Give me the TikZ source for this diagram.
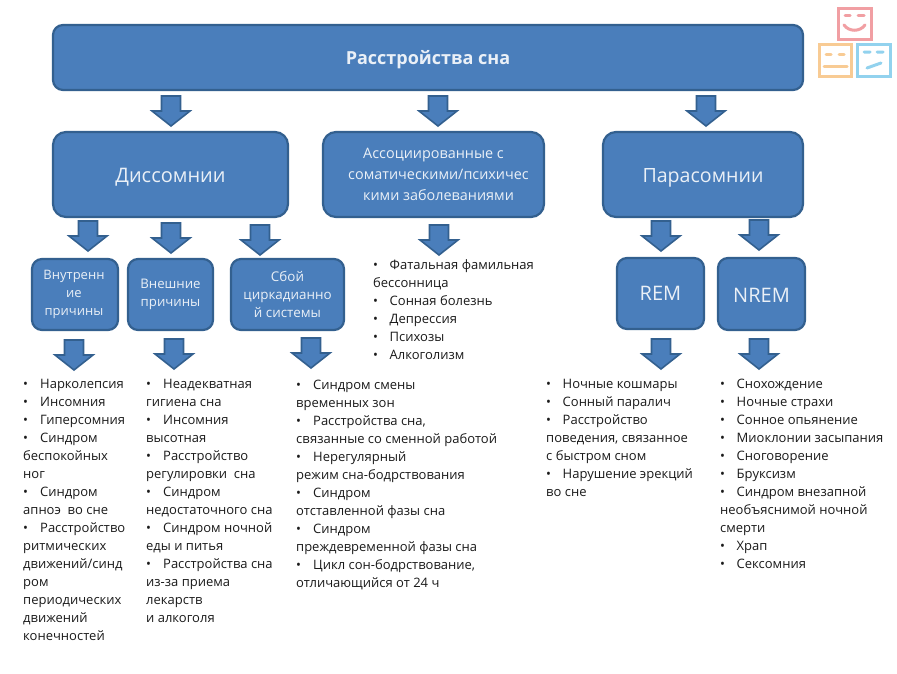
\documentclass[tikz,border=0pt]{standalone}
\usepackage{fontspec}
\setmainfont{Open Sans}
\definecolor{bfill}{HTML}{4A7EBB}
\definecolor{bedge}{HTML}{33608F}
\definecolor{btext}{HTML}{EAF0F7}
\definecolor{ink}{HTML}{1A1A1A}
\definecolor{spink}{HTML}{F19FA3}
\definecolor{sorange}{HTML}{F8CB94}
\definecolor{sblue}{HTML}{92D2EE}
\tikzset{
  x=1pt,y=-1pt,
  boxn/.style={draw=bedge,line width=2.2pt,fill=bfill,rounded corners=#1,inner sep=0pt},
  boxn/.default=13pt,
  ttxt/.style={text=btext,align=center,inner sep=0pt},
  down/.style={draw=bedge,line width=1.6pt,fill=bfill,line join=miter},
  lst/.style={anchor=north west,align=left,text=ink,inner sep=0pt,font=\fontsize{13}{18}\selectfont},
  smile/.style={line width=3pt}
}
\newcommand{\bu}[1][16.5pt]{\makebox[#1][l]{•}}
% #1 radius, #2 name, #3-#6 corners, #7 node options; the text follows
\newcommand{\rbox}[7][13pt]{%
  \draw[boxn=#1] (#3,#4) rectangle (#5,#6);
  \node[ttxt,#7] (#2) at ({(#3+#5)/2},{(#4+#6)/2}) }
% name, centre x, top y
\newcommand{\barrow}[3]{%
  \coordinate (#1) at (#2,#3);
  \draw[down] ([xshift=-9.5pt]#1) -- ([xshift=9.5pt]#1) -- ([shift={(9.5,15)}]#1) -- ([shift={(19,15)}]#1)
    -- ([yshift=-30pt]#1) -- ([shift={(-19,15)}]#1) -- ([shift={(-9.5,15)}]#1) -- cycle;}
\begin{document}
\begin{tikzpicture}
\useasboundingbox (0,0) rectangle (897,673);
\fill[white] (0,0) rectangle (897,673);
% boxes
\rbox[10pt]{main}{53}{25}{803}{90}{yshift=-2pt,font=\fontsize{18}{20}\selectfont\bfseries}{Расстройства сна};
\rbox{dis}{53}{132}{288}{217}{yshift=-3pt,font=\fontsize{20}{22}\selectfont}{Диссомнии};
\rbox{ass}{323}{132}{544}{217}{xshift=5pt,font=\fontsize{14.4}{21}\selectfont}{Ассоциированные с\hspace*{10pt}\\соматическими/психичес\\кими заболеваниями};
\rbox{par}{603}{132}{803}{217}{yshift=-3pt,font=\fontsize{19.6}{22}\selectfont}{Парасомнии};
\rbox[10pt]{vnu}{32}{259}{118}{330}{xshift=-1pt,font=\fontsize{13}{18}\selectfont}{Внутренн\\ие\\причины};
\rbox[10pt]{vne}{128}{259}{213}{330}{font=\fontsize{13.2}{18}\selectfont}{Внешние\\причины};
\rbox[10pt]{sbo}{231}{259}{344}{330}{font=\fontsize{13.4}{18}\selectfont}{Сбой\\циркадианно\\й системы};
\rbox[10pt]{rem}{617}{258}{704}{329}{font=\fontsize{20}{22}\selectfont}{REM};
\rbox[10pt]{nre}{718}{258}{805}{330}{yshift=-1pt,font=\fontsize{20}{22}\selectfont}{NREM};
% arrows
\barrow{a1}{171}{96}
\barrow{a2}{438}{96}
\barrow{a3}{706}{96}
\barrow{b1}{88}{221}
\barrow{b2}{171}{223}
\barrow{b3}{260}{225}
\barrow{b4}{439}{225}
\barrow{b5}{661}{221}
\barrow{b6}{759}{220}
\barrow{c1}{74}{340}
\barrow{c2}{174}{339}
\barrow{c3}{311}{338}
\barrow{c4}{661}{339}
\barrow{c5}{759}{339}
% lists
\node[lst] (l0) at (373,259) {\bu Фатальная фамильная\\бессонница\\\bu Сонная болезнь\\\bu Депрессия\\\bu Психозы\\\bu Алкоголизм};
\node[lst] (l1) at (23,379.5) {\bu[17pt]Нарколепсия\\\bu[17pt]Инсомния\\\bu[17pt]Гиперсомния\\\bu[17pt]Синдром\\беспокойных\\ног\\\bu[17pt]Синдром\\апноэ~ во сне\\\bu[17pt]Расстройство\\ритмических\\движений/синд\\ром\\периодических\\движений\\конечностей};
\node[lst] (l2) at (146,379.5) {\bu[17pt]Неадекватная\\гигиена сна\\\bu[17pt]Инсомния\\высотная\\\bu[17pt]Расстройство\\регулировки~ сна\\\bu[17pt]Синдром\\недостаточного сна\\\bu[17pt]Синдром ночной\\еды и питья\\\bu[17pt]Расстройства сна\\из-за приема\\лекарств\\и алкоголя};
\node[lst] (l3) at (296,379.5) {\bu[17pt]Синдром смены\\временных зон\\\bu[17pt]Расстройства сна,\\связанные со сменной работой\\\bu[17pt]Нерегулярный\\режим сна-бодрствования\\\bu[17pt]Синдром\\отставленной фазы сна\\\bu[17pt]Синдром\\преждевременной фазы сна\\\bu[17pt]Цикл сон-бодрствование,\\отличающийся от 24 ч};
\node[lst] (l4) at (546,379.5) {\bu Ночные кошмары\\\bu Сонный паралич\\\bu Расстройство\\поведения, связанное\\с быстром сном\\\bu Нарушение эрекций\\во сне};
\node[lst] (l5) at (720,378.5) {\bu Снохождение\\\bu Ночные страхи\\\bu Сонное опьянение\\\bu Миоклонии засыпания\\\bu Сноговорение\\\bu Бруксизм\\\bu Синдром внезапной\\необъяснимой ночной\\смерти\\\bu Храп\\\bu Сексомния};
% faces
\draw[spink,smile] (838,8) rectangle (871,39);
\draw[spink,smile,line cap=round] (845,15)--(850,15) (858,15)--(864,15);
\draw[spink,smile,line cap=round] (844,25) .. controls (849,32) and (860,32) .. (865,25);
\draw[sorange,smile] (819,44) rectangle (851,76);
\draw[sorange,smile,line cap=round] (826,54)--(831,54) (839,54)--(844,54) (824,66)--(847,66);
\draw[sblue,smile] (857,44) rectangle (890,76);
\draw[sblue,smile,line cap=round] (864,52)--(870,52) (877,52)--(883,52) (867,68)--(881,63);
\end{tikzpicture}
\end{document}
